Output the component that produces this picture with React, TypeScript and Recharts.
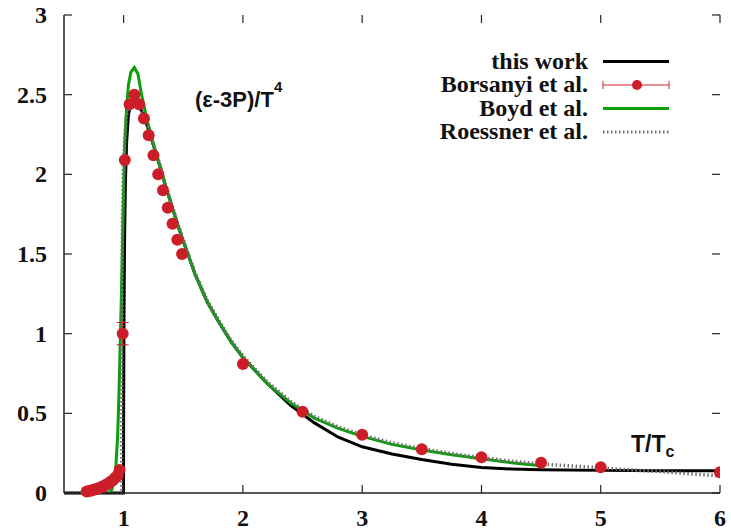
import { ComposedChart, Line, Scatter, ErrorBar, XAxis, YAxis } from 'recharts'

// axis ticks
const xTicks = [1, 2, 3, 4, 5, 6]
const yTicks = [0, 0.5, 1, 1.5, 2, 2.5, 3]

// this work (black)
const workT = [0.5, 0.999, 1.0, 1.003, 1.008, 1.015, 1.025, 1.04, 1.06, 1.08, 1.1, 1.15, 1.2, 1.25, 1.3, 1.35, 1.4, 1.45, 1.5, 1.6, 1.7, 1.8, 1.9, 2.0, 2.2, 2.4, 2.6, 2.8, 3.0, 3.25, 3.5, 3.75, 4.0, 4.25, 4.5, 5.0, 5.5, 6.0]
const workV = [0, 0, 0.5, 1.1, 1.6, 1.95, 2.2, 2.37, 2.45, 2.47, 2.46, 2.4, 2.3, 2.18, 2.06, 1.93, 1.81, 1.69, 1.58, 1.37, 1.2, 1.07, 0.95, 0.85, 0.69, 0.55, 0.44, 0.35, 0.29, 0.245, 0.21, 0.18, 0.16, 0.151, 0.146, 0.142, 0.14, 0.14]

// Boyd et al. (green)
const boydT = [0.88, 0.9, 0.92, 0.935, 0.95, 0.96, 0.97, 0.98, 0.99, 1.0, 1.01, 1.025, 1.04, 1.06, 1.09, 1.12, 1.15, 1.2, 1.25, 1.3, 1.35, 1.4, 1.45, 1.5, 1.6, 1.7, 1.8, 1.9, 2.0, 2.2, 2.4, 2.6, 2.8, 3.0, 3.25, 3.5, 3.75, 4.0, 4.25, 4.5]
const boydV = [0.005, 0.02, 0.07, 0.17, 0.36, 0.6, 0.9, 1.2, 1.55, 1.9, 2.2, 2.42, 2.56, 2.64, 2.67, 2.63, 2.5, 2.33, 2.19, 2.06, 1.93, 1.81, 1.69, 1.58, 1.37, 1.2, 1.07, 0.95, 0.85, 0.69, 0.565, 0.47, 0.405, 0.355, 0.305, 0.27, 0.24, 0.215, 0.19, 0.171]

// Roessner et al. (grey dotted)
const roessT = [0.5, 0.983, 0.985, 0.99, 1.0, 1.02, 1.05, 1.08, 1.11, 1.15, 1.2, 1.25, 1.3, 1.35, 1.4, 1.45, 1.5, 1.6, 1.7, 1.8, 1.9, 2.0, 2.2, 2.4, 2.6, 2.8, 3.0, 3.25, 3.5, 3.75, 4.0, 4.25, 4.5, 4.75, 5.0, 5.25, 5.5, 5.75, 6.0]
const roessV = [0, 0, 0.8, 1.7, 2.1, 2.35, 2.45, 2.47, 2.45, 2.4, 2.31, 2.19, 2.07, 1.94, 1.82, 1.7, 1.59, 1.38, 1.21, 1.08, 0.96, 0.86, 0.7, 0.575, 0.48, 0.415, 0.365, 0.315, 0.278, 0.248, 0.222, 0.2, 0.182, 0.17, 0.158, 0.145, 0.135, 0.12, 0.108]

// Borsanyi et al. (red points with errors)
const borsT = [0.69, 0.71, 0.73, 0.75, 0.77, 0.79, 0.81, 0.83, 0.85, 0.87, 0.89, 0.91, 0.93, 0.95, 0.966, 0.992, 1.01, 1.05, 1.09, 1.13, 1.17, 1.21, 1.25, 1.29, 1.33, 1.37, 1.41, 1.45, 1.49, 2.0, 2.5, 3.0, 3.5, 4.0, 4.5, 5.0, 6.0]
const borsV = [0.01, 0.013, 0.016, 0.02, 0.025, 0.03, 0.036, 0.043, 0.05, 0.06, 0.07, 0.08, 0.095, 0.11, 0.145, 1.0, 2.09, 2.44, 2.5, 2.44, 2.35, 2.245, 2.12, 2.0, 1.9, 1.79, 1.69, 1.59, 1.5, 0.81, 0.51, 0.366, 0.275, 0.225, 0.19, 0.162, 0.13]
const borsErr = [0, 0, 0, 0, 0, 0, 0, 0, 0, 0, 0, 0, 0, 0, 0, 0.07, 0, 0, 0, 0, 0, 0, 0, 0, 0, 0, 0, 0, 0, 0, 0, 0, 0, 0, 0, 0, 0]

const legendLabels = ['this work', 'Borsanyi et al.', 'Boyd et al.', 'Roessner et al.']

const zip = (ts: number[], vs: number[]) => ts.map((t, i) => ({ t, v: vs[i] }))
const workData = zip(workT, workV)
const boydData = zip(boydT, boydV)
const roessData = zip(roessT, roessV)
const borsData = borsT.map((t, i) => ({ t, v: borsV[i], err: borsErr[i] }))

const W = 731
const H = 530
const TOP = 15
const BOTTOM = 493
const LEFT = 64
const RIGHT = 720

const RED = '#cc1e28'
const GREEN = '#0a9f0a'
const GREY = '#6e6e6e'
const AXIS = '#222'
const serif = '"Liberation Serif", "Times New Roman", serif'
const sans = '"Liberation Sans", Arial, sans-serif'

const XTick = ({ x, payload }: any) => (
  <g>
    <line x1={x} y1={BOTTOM} x2={x} y2={BOTTOM - 8} stroke={AXIS} strokeWidth={1.2} />
    <line x1={x} y1={TOP} x2={x} y2={TOP + 8} stroke={AXIS} strokeWidth={1.2} />
    <text x={x} y={526} textAnchor="middle" fontFamily={serif} fontWeight="bold" fontSize={24} fill="#111">
      {payload.value}
    </text>
  </g>
)

const YTick = ({ y, payload }: any) => (
  <g>
    <line x1={LEFT} y1={y} x2={LEFT + 8} y2={y} stroke={AXIS} strokeWidth={1.2} />
    <line x1={RIGHT} y1={y} x2={RIGHT - 8} y2={y} stroke={AXIS} strokeWidth={1.2} />
    <text x={47} y={y + 8} textAnchor="end" fontFamily={serif} fontWeight="bold" fontSize={24} fill="#111">
      {payload.value}
    </text>
  </g>
)

const Dot = ({ cx, cy }: any) => <circle cx={cx} cy={cy} r={6} fill={RED} />

export default function App() {
  const rowY = [61.5, 85, 108.5, 132]
  return (
    <div style={{ position: 'absolute', left: 0, top: 0, width: W, height: H, background: '#fff' }}>
      <ComposedChart width={W} height={H} margin={{ top: TOP, right: W - RIGHT, left: 0, bottom: 0 }}>
        <XAxis
          dataKey="t"
          type="number"
          domain={[0.5, 6]}
          ticks={xTicks}
          height={H - BOTTOM}
          tickSize={0}
          tick={<XTick />}
          axisLine={{ stroke: AXIS, strokeWidth: 1.5 }}
          tickLine={false}
          allowDataOverflow
        />
        <XAxis xAxisId="top" orientation="top" type="number" domain={[0.5, 6]} height={0} tick={false} tickLine={false} axisLine={{ stroke: AXIS, strokeWidth: 1.5 }} />
        <YAxis
          type="number"
          domain={[0, 3]}
          ticks={yTicks}
          width={LEFT}
          tickSize={0}
          tick={<YTick />}
          axisLine={{ stroke: AXIS, strokeWidth: 1.5 }}
          tickLine={false}
        />
        <YAxis yAxisId="right" orientation="right" type="number" domain={[0, 3]} width={0} tick={false} tickLine={false} axisLine={{ stroke: AXIS, strokeWidth: 1.5 }} />
        <Line data={workData} dataKey="v" type="linear" stroke="#000" strokeWidth={3} dot={false} isAnimationActive={false} />
        <Line data={boydData} dataKey="v" type="linear" stroke={GREEN} strokeWidth={3} dot={false} isAnimationActive={false} />
        <Line data={roessData} dataKey="v" type="linear" stroke={GREY} strokeWidth={3.5} strokeDasharray="1.5 2.5" dot={false} isAnimationActive={false} />
        <Scatter data={borsData} dataKey="v" fill={RED} shape={<Dot />} isAnimationActive={false}>
          <ErrorBar dataKey="err" direction="y" stroke={RED} strokeWidth={1} width={6} />
        </Scatter>
      </ComposedChart>
      <svg width={W} height={H} style={{ position: 'absolute', left: 0, top: 0, pointerEvents: 'none' }}>
        {legendLabels.map((label, i) => (
          <text key={label} x={588} y={rowY[i] + 7} textAnchor="end" fontFamily={serif} fontWeight="bold" fontSize={24} fill="#111">
            {label}
          </text>
        ))}
        <line x1={603} y1={rowY[0]} x2={669} y2={rowY[0]} stroke="#000" strokeWidth={3} />
        <line x1={603} y1={rowY[1]} x2={669} y2={rowY[1]} stroke={RED} strokeWidth={1} />
        <line x1={603} y1={rowY[1] - 4} x2={603} y2={rowY[1] + 4} stroke={RED} strokeWidth={1} />
        <line x1={669} y1={rowY[1] - 4} x2={669} y2={rowY[1] + 4} stroke={RED} strokeWidth={1} />
        <circle cx={637} cy={rowY[1]} r={5} fill={RED} />
        <line x1={603} y1={rowY[2]} x2={669} y2={rowY[2]} stroke={GREEN} strokeWidth={3} />
        <line x1={603} y1={rowY[3]} x2={669} y2={rowY[3]} stroke={GREY} strokeWidth={3} strokeDasharray="1.5 2.5" />
        <text x={195} y={107} fontFamily={sans} fontWeight="bold" fontSize={22} fill="#111">
          (ε-3P)/T<tspan dy={-15} fontSize={15}>4</tspan>
        </text>
        <text x={631} y={452} fontFamily={sans} fontWeight="bold" fontSize={23} fill="#111">
          T/T<tspan dy={5} fontSize={16}>c</tspan>
        </text>
      </svg>
    </div>
  )
}
